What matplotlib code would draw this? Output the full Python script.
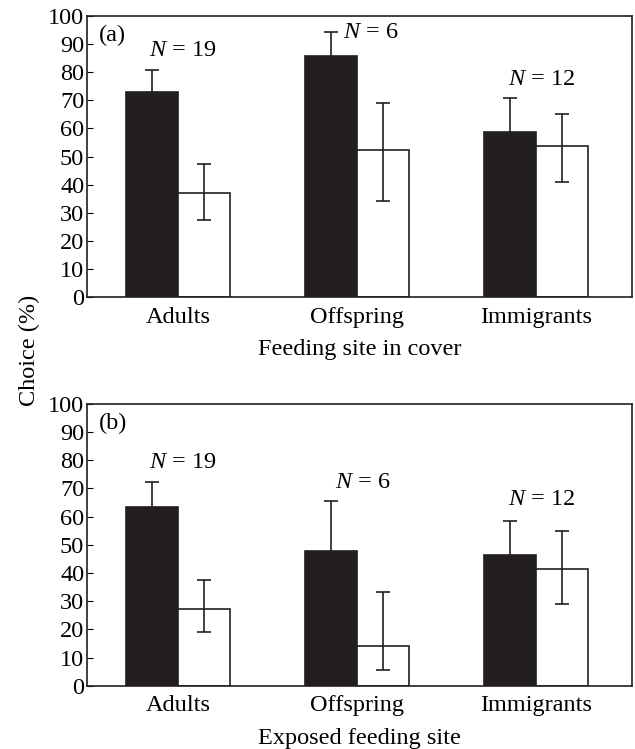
import numpy as np
import matplotlib
matplotlib.use("Agg")
import matplotlib.pyplot as plt

plt.rcParams['font.family'] = ['Liberation Serif', 'DejaVu Serif']
plt.rcParams['mathtext.fontset'] = 'custom'
plt.rcParams['mathtext.it'] = 'Liberation Serif:italic'
plt.rcParams['mathtext.rm'] = 'Liberation Serif'

groups = ['Adults', 'Offspring', 'Immigrants']
sample_n = [19, 6, 12]

# panel (a): feeding site in cover
a_black = [73, 85.6, 58.6]
a_black_up = [80.7, 94.3, 70.9]
a_white = [37, 52.2, 53.6]
a_white_lo = [27.5, 34.3, 41.1]
a_white_up = [47.3, 68.9, 65.2]
a_n_y = [87.5, 94, 77.5]

# panel (b): exposed feeding site
b_black = [63.3, 47.7, 46.5]
b_black_up = [72.1, 65.4, 58.5]
b_white = [27.2, 14.2, 41.4]
b_white_lo = [19, 5.6, 29]
b_white_up = [37.6, 33.3, 54.9]
b_n_y = [79, 72, 66]

FS = 17.5
INK = '#231f20'


def draw_panel(ax, black, black_up, white, white_lo, white_up, n_y, n_dx, tag, xlabel):
	x = np.arange(len(groups))
	w = 0.29
	black = np.array(black)
	white = np.array(white)
	ax.bar(x - w / 2, black, w, color=INK, edgecolor=INK, linewidth=1.2, zorder=2)
	ax.bar(x + w / 2, white, w, color='white', edgecolor=INK, linewidth=1.2, zorder=2)
	up = np.array(black_up) - black
	ax.errorbar(x - w / 2, black, yerr=[up, up], fmt='none', ecolor=INK,
	            elinewidth=1.2, capsize=5, capthick=1.2, zorder=1)
	ax.errorbar(x + w / 2, white, yerr=[white - np.array(white_lo), np.array(white_up) - white],
	            fmt='none', ecolor=INK, elinewidth=1.2, capsize=5, capthick=1.2, zorder=3)
	for i in range(len(groups)):
		ax.text(x[i] + n_dx[i], n_y[i], r'$\mathit{N}$ = %d' % sample_n[i],
		        ha='center', va='center', fontsize=FS)
	ax.text(-0.44, 93, tag, ha='left', va='center', fontsize=FS)
	ax.set_xlim(-0.507, 2.535)
	ax.set_ylim(0, 100)
	ax.set_yticks(range(0, 101, 10))
	ax.set_xticks(x)
	ax.set_xticklabels(groups, fontsize=FS)
	ax.tick_params(axis='y', direction='in', length=4, labelsize=FS, pad=2)
	ax.tick_params(axis='x', length=0, pad=7)
	ax.set_xlabel(xlabel, fontsize=FS, labelpad=8)
	for s in ax.spines.values():
		s.set_linewidth(1.2)
		s.set_color(INK)


fig = plt.figure(figsize=(6.35, 7.49), dpi=100)
ax1 = fig.add_axes([0.137, 0.603, 0.858, 0.376])
ax2 = fig.add_axes([0.137, 0.0845, 0.858, 0.3765])
draw_panel(ax1, a_black, a_black_up, a_white, a_white_lo, a_white_up, a_n_y,
           [0.03, 0.08, 0.03], '(a)', 'Feeding site in cover')
draw_panel(ax2, b_black, b_black_up, b_white, b_white_lo, b_white_up, b_n_y,
           [0.03, 0.03, 0.03], '(b)', 'Exposed feeding site')
fig.text(0.047, 0.532, 'Choice (%)', rotation=90, ha='center', va='center', fontsize=FS)

fig.savefig('out.png', dpi=100)
